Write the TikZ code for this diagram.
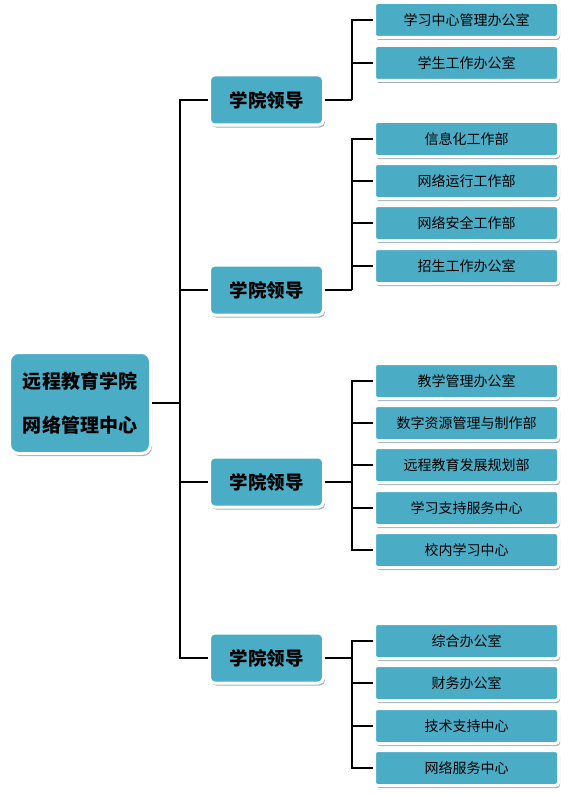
\documentclass[tikz,border=0pt]{standalone}
\usepackage{fontspec}
\newfontfamily\cjk{Noto Sans CJK SC}
\usetikzlibrary{shadows}
\usepackage{xcolor}
\definecolor{BoxTeal}{HTML}{4BACC6}
\definecolor{ShadowGrey}{HTML}{A3B1B6}

\begin{document}
\begin{tikzpicture}[
      x=1pt, y=-1pt,
      every node/.style={font=\cjk},
      card/.style={draw=white, line width=3pt, fill=BoxTeal, rounded corners=4pt, align=center,
        drop shadow={shadow xshift=1.5pt, shadow yshift=-2.5pt, fill=ShadowGrey, opacity=1}},
      rootbox/.style={card, minimum width=141pt, minimum height=101pt, rounded corners=9pt, font=\cjk\bfseries\fontsize{19}{44}\selectfont},
      leadbox/.style={card, minimum width=114pt, minimum height=50pt, rounded corners=5pt, font=\cjk\bfseries\fontsize{18.5}{22}\selectfont},
      unitbox/.style={card, minimum width=184pt, minimum height=35pt, rounded corners=3pt, font=\cjk\fontsize{14}{16}\selectfont},
      link/.style={line width=2.6pt, draw=black}
    ]
    \useasboundingbox (0,0) rectangle (569,797);

    \node[rootbox] (root) at (80,403) {远程教育学院\\网络管理中心};

    \node[leadbox] (lead1) at (266.5,100) {学院领导};
    \node[leadbox] (lead2) at (266.5,290) {学院领导};
    \node[leadbox] (lead3) at (266.5,482) {学院领导};
    \node[leadbox] (lead4) at (266.5,658) {学院领导};

    % first group
    \node[unitbox] (u11) at (466.5,20) {学习中心管理办公室};
    \node[unitbox] (u12) at (466.5,63) {学生工作办公室};
    % second group
    \node[unitbox] (u21) at (466.5,139) {信息化工作部};
    \node[unitbox] (u22) at (466.5,181) {网络运行工作部};
    \node[unitbox] (u23) at (466.5,223) {网络安全工作部};
    \node[unitbox] (u24) at (466.5,266) {招生工作办公室};
    % third group
    \node[unitbox] (u31) at (466.5,381) {教学管理办公室};
    \node[unitbox] (u32) at (466.5,423) {数字资源管理与制作部};
    \node[unitbox] (u33) at (466.5,465) {远程教育发展规划部};
    \node[unitbox] (u34) at (466.5,508) {学习支持服务中心};
    \node[unitbox] (u35) at (466.5,550) {校内学习中心};
    % fourth group
    \node[unitbox] (u41) at (466.5,641) {综合办公室};
    \node[unitbox] (u42) at (466.5,683) {财务办公室};
    \node[unitbox] (u43) at (466.5,726) {技术支持中心};
    \node[unitbox] (u44) at (466.5,768) {网络服务中心};

    \coordinate (trunk) at (180,403);
    \draw[link] (root.east) -- (trunk);
    \foreach \l in {lead1,lead2,lead3,lead4}
      \draw[link] (trunk) |- (\l.west);

    \coordinate (fork1) at (352,100);
    \coordinate (fork2) at (352,290);
    \coordinate (fork3) at (352,482);
    \coordinate (fork4) at (352,658);
    \foreach \g in {1,2,3,4}
      \draw[link] (lead\g.east) -- (fork\g);

    \foreach \u in {u11,u12}
      \draw[link] (fork1) |- (\u.west);
    \foreach \u in {u21,u22,u23,u24}
      \draw[link] (fork2) |- (\u.west);
    \foreach \u in {u31,u32,u33,u34,u35}
      \draw[link] (fork3) |- (\u.west);
    \foreach \u in {u41,u42,u43,u44}
      \draw[link] (fork4) |- (\u.west);
  \end{tikzpicture}
\end{document}
